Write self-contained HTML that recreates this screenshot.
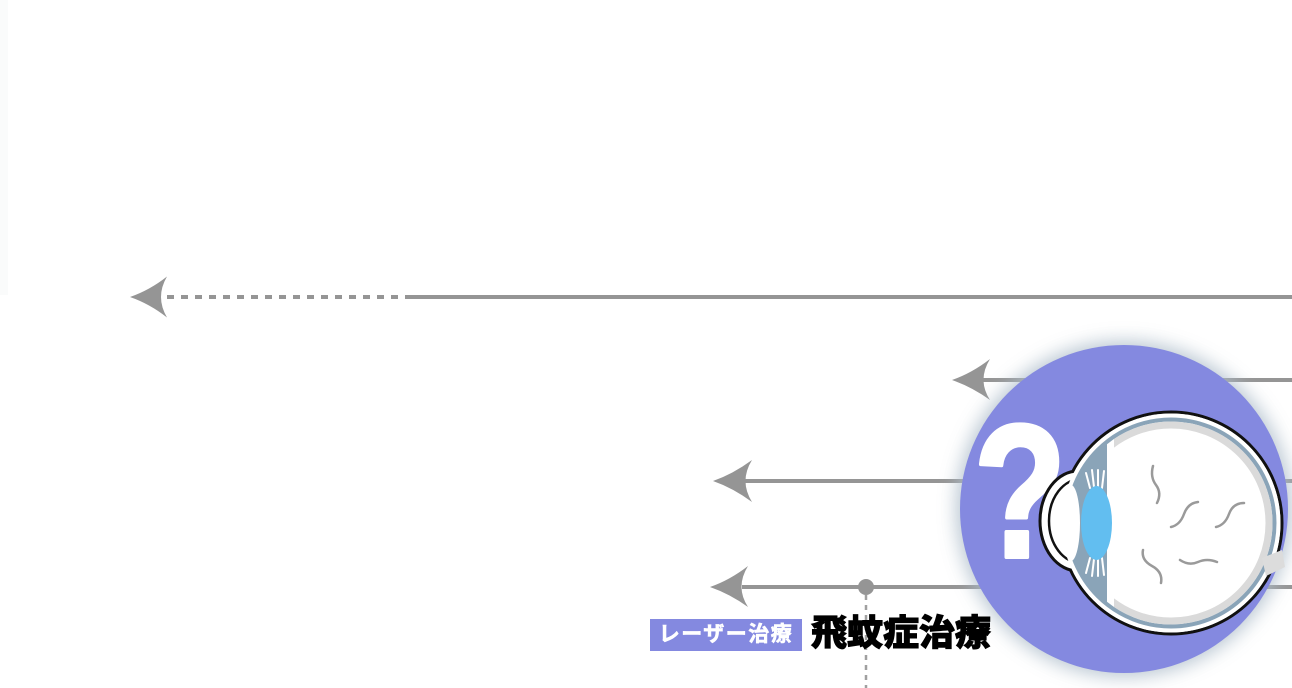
<!DOCTYPE html>
<html>
<head>
<meta charset="utf-8">
<style>
  html,body{margin:0;padding:0;background:#fff;}
  body{width:1292px;height:688px;overflow:hidden;position:relative;}
  svg{position:absolute;left:0;top:0;}
  .tag{position:absolute;left:650px;top:619px;width:152px;height:32px;background:#8489e0;color:#fff;
       font-family:"Liberation Sans","Noto Sans CJK JP",sans-serif;font-weight:bold;font-size:21px;line-height:32px;
       text-align:center;letter-spacing:1.5px;white-space:nowrap;-webkit-text-stroke:0.6px #fff;}
  .title{position:absolute;left:811px;top:614px;color:#000;
       font-family:"Liberation Sans","Noto Sans CJK JP",sans-serif;font-weight:900;font-size:36px;line-height:38px;
       white-space:nowrap;-webkit-text-stroke:1px #000;}
</style>
</head>
<body>
<svg width="1292" height="688" viewBox="0 0 1292 688" xmlns="http://www.w3.org/2000/svg">
  <defs>
    <filter id="glow" x="-30%" y="-30%" width="160%" height="160%">
      <feGaussianBlur stdDeviation="9"/>
    </filter>
    <clipPath id="front"><rect x="1000" y="380" width="107" height="300"/></clipPath>
    <clipPath id="back"><rect x="1107" y="380" width="200" height="300"/></clipPath>
    <clipPath id="back2"><rect x="1114" y="380" width="200" height="300"/></clipPath>
  </defs>

  <rect x="0" y="0" width="8" height="295" fill="#fafbfb"/>

  <!-- lines -->
  <g stroke="#959595" stroke-width="4" fill="none">
    <line x1="167" y1="297" x2="405" y2="297" stroke-dasharray="7 7"/>
    <line x1="405" y1="297" x2="1292" y2="297"/>
    <line x1="983" y1="380" x2="1292" y2="380"/>
    <line x1="743" y1="481" x2="1292" y2="481"/>
    <line x1="742" y1="587" x2="1292" y2="587"/>
  </g>
  <line x1="866" y1="595" x2="866" y2="688" stroke="#a0a0a0" stroke-width="2.5" stroke-dasharray="5 5"/>
  <circle cx="866" cy="587" r="8" fill="#959595"/>

  <!-- arrowheads -->
  <g fill="#959595">
    <path d="M130,297 Q150,290 167,276.5 Q155,297 167,317.5 Q150,304 130,297Z"/>
    <path d="M952,380 Q972,373 990,359 Q977,380 990,400 Q972,387 952,380Z"/>
    <path d="M713,481 Q733,474 752,460 Q739,481 752,502 Q733,488 713,481Z"/>
    <path d="M710,587 Q730,580 748,566 Q735,587 748,607 Q730,594 710,587Z"/>
  </g>

  <!-- circle glow + circle -->
  <circle cx="1124" cy="509" r="168" fill="#aebdca" opacity="0.85" filter="url(#glow)"/>
  <circle cx="1124" cy="509" r="164" fill="#8489e0"/>

  <!-- question mark -->
  <text transform="translate(1020,557) scale(0.8,1)" text-anchor="middle" font-family="Liberation Sans, sans-serif" font-weight="bold" font-size="190" fill="#fff" stroke="#fff" stroke-width="4" stroke-linejoin="round">?</text>

  <!-- eye -->
  <circle cx="1171" cy="523" r="111" fill="#fff" stroke="#111" stroke-width="3"/>
  <ellipse cx="1078" cy="521" rx="38" ry="50" fill="#fff" stroke="#111" stroke-width="3"/>
  <ellipse cx="1081" cy="521" rx="32" ry="42" fill="#fff" stroke="#111" stroke-width="2.5"/>
  <circle cx="1171" cy="523" r="109.5" fill="#fff"/>

  <circle cx="1171" cy="523" r="103.5" fill="none" stroke="#8aa4b8" stroke-width="4" clip-path="url(#back)"/>
  <circle cx="1171" cy="523" r="98" fill="none" stroke="#dadada" stroke-width="7" clip-path="url(#back2)"/>

  <circle cx="1171" cy="523" r="105.5" fill="#8aa4b8" clip-path="url(#front)"/>
  <ellipse cx="1071" cy="523" rx="9" ry="38" fill="#fff"/>

  <g stroke="#fff" stroke-width="2" stroke-linecap="round">
    <line x1="1086" y1="473" x2="1090" y2="488"/>
    <line x1="1092" y1="470" x2="1094" y2="487"/>
    <line x1="1098" y1="470" x2="1098" y2="487"/>
    <line x1="1104" y1="471" x2="1102" y2="488"/>
    <line x1="1086" y1="573" x2="1090" y2="558"/>
    <line x1="1092" y1="576" x2="1094" y2="559"/>
    <line x1="1098" y1="576" x2="1098" y2="559"/>
    <line x1="1104" y1="575" x2="1102" y2="558"/>
  </g>

  <ellipse cx="1096.5" cy="523" rx="15.5" ry="37" fill="#62bef0"/>

  <polygon points="1262,558 1282,550 1285,567 1266,576" fill="#dcdcdc"/>

  <g stroke="#9a9a9a" stroke-width="2.5" fill="none" stroke-linecap="round">
    <path d="M1153,466 Q1150,477 1156,485 T1157,503"/>
    <path d="M1171,527 Q1180,525 1184,514 T1198,502"/>
    <path d="M1216,527 Q1225,525 1229,514 T1244,503"/>
    <path d="M1143,550 Q1141,560 1152,566 T1161,583"/>
    <path d="M1180,560 Q1189,566 1198,562 T1217,562"/>
  </g>
</svg>

<div class="tag">レーザー治療</div>
<div class="title">飛蚊症治療</div>
</body>
</html>
